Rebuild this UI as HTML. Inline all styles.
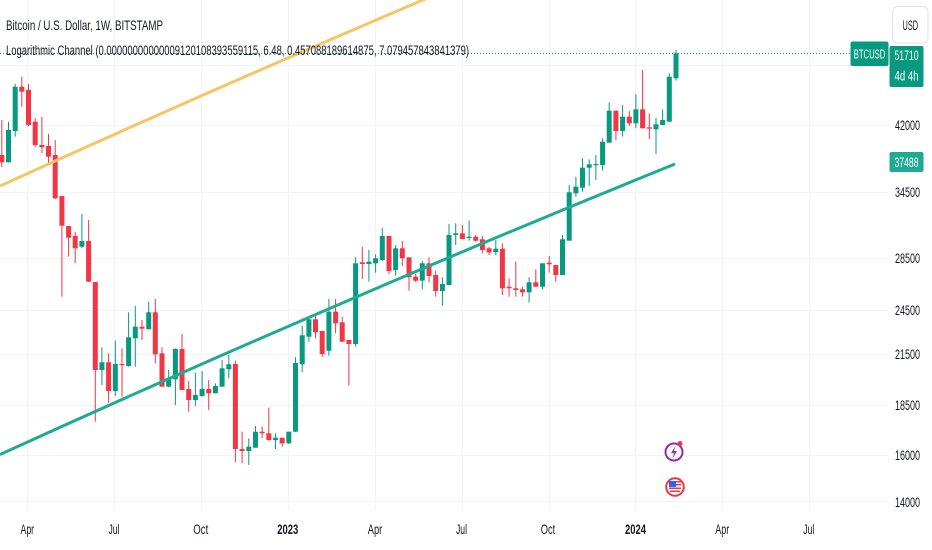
<!DOCTYPE html>
<html><head><meta charset="utf-8"><style>
html,body{margin:0;padding:0;background:#fff;}
svg{display:block;font-family:"Liberation Sans",sans-serif;}
</style></head><body>
<svg width="932" height="550" viewBox="0 0 932 550" xmlns="http://www.w3.org/2000/svg">
<rect width="932" height="550" fill="#fff"/>
<g stroke="#f0f3fa" stroke-width="1">
<line x1="27.5" y1="0" x2="27.5" y2="510"/><line x1="114.5" y1="0" x2="114.5" y2="510"/><line x1="201.5" y1="0" x2="201.5" y2="510"/><line x1="288.5" y1="0" x2="288.5" y2="510"/><line x1="375.5" y1="0" x2="375.5" y2="510"/><line x1="462.5" y1="0" x2="462.5" y2="510"/><line x1="549.5" y1="0" x2="549.5" y2="510"/><line x1="635.5" y1="0" x2="635.5" y2="510"/><line x1="722.5" y1="0" x2="722.5" y2="510"/><line x1="809.5" y1="0" x2="809.5" y2="510"/>
<line x1="0" y1="65.5" x2="888" y2="65.5"/><line x1="0" y1="125.5" x2="888" y2="125.5"/><line x1="0" y1="192.5" x2="888" y2="192.5"/><line x1="0" y1="258.5" x2="888" y2="258.5"/><line x1="0" y1="310.5" x2="888" y2="310.5"/><line x1="0" y1="354.5" x2="888" y2="354.5"/><line x1="0" y1="405.5" x2="888" y2="405.5"/><line x1="0" y1="455.5" x2="888" y2="455.5"/><line x1="0" y1="501.5" x2="888" y2="501.5"/>
</g>
<line x1="0" y1="53.5" x2="851" y2="53.5" stroke="#089981" stroke-width="1" stroke-dasharray="1 2"/>
<g fill="#f23645">
<rect x="1.3" y="120" width="1" height="47"/><rect x="-0.7" y="155" width="5" height="7.3"/>
<rect x="21.3" y="76.7" width="1" height="30"/><rect x="19.3" y="86.7" width="5" height="5"/>
<rect x="28" y="84" width="1" height="42"/><rect x="26" y="90" width="5" height="35"/>
<rect x="34.7" y="118" width="1" height="29"/><rect x="32.7" y="121.7" width="5" height="23.3"/>
<rect x="41.4" y="116.7" width="1" height="36.6"/><rect x="39.4" y="145" width="5" height="2.3"/>
<rect x="48" y="134" width="1" height="29.3"/><rect x="46" y="146" width="5" height="10.7"/>
<rect x="54.7" y="140" width="1" height="59.3"/><rect x="52.7" y="155" width="5" height="43.3"/>
<rect x="61.4" y="196" width="1" height="100.7"/><rect x="59.4" y="196" width="5" height="29.7"/>
<rect x="68.1" y="226" width="1" height="30.7"/><rect x="66.1" y="226" width="5" height="11.7"/>
<rect x="74.7" y="231.7" width="1" height="31.6"/><rect x="72.7" y="236" width="5" height="12.3"/>
<rect x="88.1" y="220" width="1" height="62"/><rect x="86.1" y="241" width="5" height="40.7"/>
<rect x="94.8" y="282" width="1" height="139.7"/><rect x="92.8" y="282" width="5" height="88"/>
<rect x="108.1" y="353.3" width="1" height="49.4"/><rect x="106.1" y="362.3" width="5" height="28.7"/>
<rect x="121.5" y="348.3" width="1" height="48.4"/><rect x="119.5" y="364" width="5" height="1.2"/>
<rect x="141.5" y="320" width="1" height="20"/><rect x="139.5" y="326.7" width="5" height="2"/>
<rect x="154.8" y="299" width="1" height="64.3"/><rect x="152.8" y="312.3" width="5" height="42"/>
<rect x="161.5" y="347.3" width="1" height="39.4"/><rect x="159.5" y="353.3" width="5" height="33.4"/>
<rect x="181.5" y="334" width="1" height="56"/><rect x="179.5" y="349" width="5" height="41"/>
<rect x="188.2" y="381" width="1" height="30.7"/><rect x="186.2" y="389" width="5" height="11"/>
<rect x="208.2" y="380" width="1" height="30"/><rect x="206.2" y="389" width="5" height="4.3"/>
<rect x="234.9" y="360.7" width="1" height="101.6"/><rect x="232.9" y="364" width="5" height="85"/>
<rect x="241.6" y="431.7" width="1" height="31.6"/><rect x="239.6" y="449" width="5" height="2"/>
<rect x="261.6" y="426.7" width="1" height="11.6"/><rect x="259.6" y="431.7" width="5" height="1.6"/>
<rect x="268.3" y="407.7" width="1" height="33"/><rect x="266.3" y="433.3" width="5" height="6.7"/>
<rect x="281.7" y="437.7" width="1" height="9"/><rect x="279.7" y="437.7" width="5" height="5.6"/>
<rect x="315" y="313.3" width="1" height="25"/><rect x="313" y="319.3" width="5" height="13"/>
<rect x="321.7" y="331" width="1" height="25.7"/><rect x="319.7" y="331" width="5" height="23"/>
<rect x="335.1" y="299" width="1" height="34.3"/><rect x="333.1" y="311.7" width="5" height="11.6"/>
<rect x="341.7" y="316.7" width="1" height="25"/><rect x="339.7" y="322.3" width="5" height="19.4"/>
<rect x="348.4" y="340" width="1" height="45.7"/><rect x="346.4" y="340" width="5" height="4"/>
<rect x="361.8" y="246.7" width="1" height="32.3"/><rect x="359.8" y="262.3" width="5" height="1.7"/>
<rect x="388.5" y="236" width="1" height="38"/><rect x="386.5" y="236" width="5" height="35"/>
<rect x="401.8" y="241" width="1" height="25"/><rect x="399.8" y="248.3" width="5" height="10"/>
<rect x="408.5" y="257.3" width="1" height="33.4"/><rect x="406.5" y="257.3" width="5" height="20"/>
<rect x="415.2" y="274" width="1" height="8.3"/><rect x="413.2" y="276.7" width="5" height="4"/>
<rect x="428.5" y="257.3" width="1" height="25"/><rect x="426.5" y="263.3" width="5" height="12.7"/>
<rect x="435.2" y="270.7" width="1" height="26"/><rect x="433.2" y="275" width="5" height="16"/>
<rect x="461.9" y="225" width="1" height="14"/><rect x="459.9" y="233.3" width="5" height="5.7"/>
<rect x="475.2" y="235" width="1" height="6.7"/><rect x="473.2" y="236.7" width="5" height="4"/>
<rect x="481.9" y="236" width="1" height="17.3"/><rect x="479.9" y="239.3" width="5" height="10.7"/>
<rect x="488.6" y="246.7" width="1" height="8.3"/><rect x="486.6" y="248.3" width="5" height="4.2"/>
<rect x="501.9" y="243.3" width="1" height="51.7"/><rect x="499.9" y="248.7" width="5" height="39.6"/>
<rect x="508.6" y="278.3" width="1" height="18.4"/><rect x="506.6" y="286.7" width="5" height="1.6"/>
<rect x="515.3" y="261.7" width="1" height="35"/><rect x="513.3" y="288.3" width="5" height="1.7"/>
<rect x="522" y="286.7" width="1" height="10"/><rect x="520" y="289.3" width="5" height="3"/>
<rect x="535.3" y="269.3" width="1" height="17.4"/><rect x="533.3" y="282.3" width="5" height="4.4"/>
<rect x="548.7" y="256" width="1" height="16.7"/><rect x="546.7" y="262.7" width="5" height="1.6"/>
<rect x="555.3" y="265" width="1" height="16.7"/><rect x="553.3" y="265" width="5" height="10"/>
<rect x="615.4" y="110.7" width="1" height="29.3"/><rect x="613.4" y="110.7" width="5" height="20.3"/>
<rect x="628.8" y="111" width="1" height="15"/><rect x="626.8" y="116.7" width="5" height="6.6"/>
<rect x="642.1" y="70" width="1" height="58.3"/><rect x="640.1" y="109.3" width="5" height="19"/>
<rect x="648.8" y="113.3" width="1" height="25.7"/><rect x="646.8" y="127.3" width="5" height="1.4"/>
</g>
<g fill="#089981">
<rect x="8" y="121.7" width="1" height="40.6"/><rect x="6" y="130" width="5" height="32.3"/>
<rect x="14.7" y="84" width="1" height="52.7"/><rect x="12.7" y="86.7" width="5" height="44.3"/>
<rect x="81.4" y="214" width="1" height="34"/><rect x="79.4" y="241" width="5" height="5.7"/>
<rect x="101.4" y="347.3" width="1" height="37.7"/><rect x="99.4" y="362.3" width="5" height="7.7"/>
<rect x="114.8" y="340.7" width="1" height="55.3"/><rect x="112.8" y="364" width="5" height="27"/>
<rect x="128.1" y="312.3" width="1" height="54.4"/><rect x="126.1" y="337.3" width="5" height="28.7"/>
<rect x="134.8" y="306" width="1" height="60.7"/><rect x="132.8" y="326.7" width="5" height="11.6"/>
<rect x="148.2" y="301.7" width="1" height="27.6"/><rect x="146.2" y="312.3" width="5" height="17"/>
<rect x="168.2" y="370" width="1" height="17.3"/><rect x="166.2" y="378.3" width="5" height="8.4"/>
<rect x="174.9" y="348.3" width="1" height="56.7"/><rect x="172.9" y="349" width="5" height="30.3"/>
<rect x="194.9" y="372.7" width="1" height="33.3"/><rect x="192.9" y="395" width="5" height="5"/>
<rect x="201.6" y="371" width="1" height="25.7"/><rect x="199.6" y="389" width="5" height="7"/>
<rect x="214.9" y="383.3" width="1" height="10"/><rect x="212.9" y="386" width="5" height="7.3"/>
<rect x="221.6" y="360" width="1" height="26.7"/><rect x="219.6" y="368.3" width="5" height="18.4"/>
<rect x="228.3" y="355" width="1" height="23.3"/><rect x="226.3" y="364.3" width="5" height="5"/>
<rect x="248.3" y="438.3" width="1" height="26.7"/><rect x="246.3" y="446.7" width="5" height="4.3"/>
<rect x="255" y="426" width="1" height="21.7"/><rect x="253" y="431.7" width="5" height="16"/>
<rect x="275" y="433.3" width="1" height="15.7"/><rect x="273" y="437.7" width="5" height="2.3"/>
<rect x="288.3" y="431.7" width="1" height="12.3"/><rect x="286.3" y="431.7" width="5" height="11.6"/>
<rect x="295" y="357.3" width="1" height="74.7"/><rect x="293" y="363" width="5" height="68.7"/>
<rect x="301.7" y="325.7" width="1" height="46.6"/><rect x="299.7" y="335.3" width="5" height="29"/>
<rect x="308.4" y="316.7" width="1" height="25"/><rect x="306.4" y="319.3" width="5" height="17.4"/>
<rect x="328.4" y="299" width="1" height="56.7"/><rect x="326.4" y="311.7" width="5" height="39"/>
<rect x="355.1" y="257.3" width="1" height="89.4"/><rect x="353.1" y="263.3" width="5" height="80.7"/>
<rect x="368.4" y="250" width="1" height="31.7"/><rect x="366.4" y="261.7" width="5" height="2.3"/>
<rect x="375.1" y="254.3" width="1" height="18.4"/><rect x="373.1" y="258.3" width="5" height="5"/>
<rect x="381.8" y="227.7" width="1" height="33.3"/><rect x="379.8" y="236" width="5" height="24"/>
<rect x="395.1" y="245" width="1" height="30.7"/><rect x="393.1" y="248.3" width="5" height="21.7"/>
<rect x="421.8" y="261" width="1" height="28.3"/><rect x="419.8" y="263.3" width="5" height="17.4"/>
<rect x="441.9" y="277.3" width="1" height="28.4"/><rect x="439.9" y="284" width="5" height="7"/>
<rect x="448.5" y="224" width="1" height="61"/><rect x="446.5" y="235" width="5" height="50"/>
<rect x="455.2" y="223.3" width="1" height="21.7"/><rect x="453.2" y="233.3" width="5" height="1.7"/>
<rect x="468.6" y="220.7" width="1" height="20"/><rect x="466.6" y="236.7" width="5" height="1.3"/>
<rect x="495.3" y="240" width="1" height="15"/><rect x="493.3" y="248.7" width="5" height="3.3"/>
<rect x="528.6" y="277.3" width="1" height="25.4"/><rect x="526.6" y="282.3" width="5" height="10"/>
<rect x="542" y="263.3" width="1" height="26"/><rect x="540" y="263.3" width="5" height="23.4"/>
<rect x="562" y="235" width="1" height="40"/><rect x="560" y="239.3" width="5" height="35.7"/>
<rect x="568.7" y="185" width="1" height="55.7"/><rect x="566.7" y="192.3" width="5" height="48.4"/>
<rect x="575.4" y="176.7" width="1" height="20"/><rect x="573.4" y="186.7" width="5" height="6.6"/>
<rect x="582" y="158.3" width="1" height="33.4"/><rect x="580" y="167.7" width="5" height="20"/>
<rect x="588.7" y="159.3" width="1" height="26.7"/><rect x="586.7" y="164.3" width="5" height="3.4"/>
<rect x="595.4" y="155" width="1" height="25"/><rect x="593.4" y="164" width="5" height="1.2"/>
<rect x="602.1" y="138.3" width="1" height="32.4"/><rect x="600.1" y="141.7" width="5" height="23.3"/>
<rect x="608.7" y="102.3" width="1" height="40.4"/><rect x="606.7" y="110.7" width="5" height="32"/>
<rect x="622.1" y="105" width="1" height="31.7"/><rect x="620.1" y="116.7" width="5" height="14.3"/>
<rect x="635.4" y="94.3" width="1" height="34"/><rect x="633.4" y="109.3" width="5" height="14"/>
<rect x="655.5" y="117.7" width="1" height="36.3"/><rect x="653.5" y="124.3" width="5" height="5"/>
<rect x="662.1" y="109.3" width="1" height="15.7"/><rect x="660.1" y="120" width="5" height="5"/>
<rect x="668.8" y="73.3" width="1" height="48.4"/><rect x="666.8" y="76.7" width="5" height="45"/>
<rect x="675.5" y="50" width="1" height="30.7"/><rect x="673.5" y="53.3" width="5" height="25"/>
</g>
<path d="M0,186 Q337.5,32.3 675,-104.5" fill="none" stroke="#f7c466" stroke-width="3"/>
<path d="M0,454.5 Q337.5,300.8 675,164" fill="none" stroke="#1fab93" stroke-width="3"/>
<text x="6" y="30" font-size="14" fill="#131722" textLength="157" lengthAdjust="spacingAndGlyphs">Bitcoin / U.S. Dollar, 1W, BITSTAMP</text>
<text x="6" y="55" font-size="13.5" fill="#131722" textLength="463" lengthAdjust="spacingAndGlyphs">Logarithmic Channel (0.00000000000009120108393559115, 6.48, 0.457088189614875, 7.079457843841379)</text>
<g font-size="14" fill="#131722">
<text x="895" y="130" textLength="25" lengthAdjust="spacingAndGlyphs">42000</text>
<text x="895" y="197" textLength="25" lengthAdjust="spacingAndGlyphs">34500</text>
<text x="895" y="263" textLength="25" lengthAdjust="spacingAndGlyphs">28500</text>
<text x="895" y="315" textLength="25" lengthAdjust="spacingAndGlyphs">24500</text>
<text x="895" y="359" textLength="25" lengthAdjust="spacingAndGlyphs">21500</text>
<text x="895" y="410" textLength="25" lengthAdjust="spacingAndGlyphs">18500</text>
<text x="895" y="460" textLength="25" lengthAdjust="spacingAndGlyphs">16000</text>
<text x="895" y="507" textLength="25" lengthAdjust="spacingAndGlyphs">14000</text>
</g>
<g font-size="14" fill="#131722" text-anchor="middle">
<text x="27.3" y="534" textLength="13.5" lengthAdjust="spacingAndGlyphs">Apr</text>
<text x="114" y="534" textLength="11" lengthAdjust="spacingAndGlyphs">Jul</text>
<text x="200.8" y="534" textLength="15" lengthAdjust="spacingAndGlyphs">Oct</text>
<text x="287.8" y="534" textLength="21" lengthAdjust="spacingAndGlyphs" font-weight="bold">2023</text>
<text x="375" y="534" textLength="14.5" lengthAdjust="spacingAndGlyphs">Apr</text>
<text x="461.5" y="534" textLength="11" lengthAdjust="spacingAndGlyphs">Jul</text>
<text x="548" y="534" textLength="14.5" lengthAdjust="spacingAndGlyphs">Oct</text>
<text x="635.5" y="534" textLength="21" lengthAdjust="spacingAndGlyphs" font-weight="bold">2024</text>
<text x="722.3" y="534" textLength="14" lengthAdjust="spacingAndGlyphs">Apr</text>
<text x="808.8" y="534" textLength="11" lengthAdjust="spacingAndGlyphs">Jul</text>
</g>
<rect x="892.5" y="6.5" width="35.5" height="36.5" rx="5" fill="#fff" stroke="#e0e3eb"/>
<text x="910.3" y="30" font-size="14" fill="#131722" text-anchor="middle" textLength="15.5" lengthAdjust="spacingAndGlyphs">USD</text>
<rect x="850.5" y="41.5" width="38" height="24.5" rx="2" fill="#089981"/>
<text x="869.5" y="58.5" font-size="13" fill="#fff" text-anchor="middle" textLength="31.5" lengthAdjust="spacingAndGlyphs">BTCUSD</text>
<rect x="889.5" y="46" width="34" height="41" rx="2" fill="#089981"/>
<text x="906.5" y="60" font-size="14" fill="#fff" text-anchor="middle" textLength="24" lengthAdjust="spacingAndGlyphs">51710</text>
<text x="906.5" y="80.5" font-size="14" fill="#fff" text-anchor="middle" textLength="24" lengthAdjust="spacingAndGlyphs">4d 4h</text>
<rect x="889.5" y="152" width="34" height="20" rx="2" fill="#1fab93"/>
<text x="906.5" y="167" font-size="14" fill="#fff" text-anchor="middle" textLength="24" lengthAdjust="spacingAndGlyphs">37488</text>
<circle cx="674" cy="452" r="8.5" fill="#fff" stroke="#9c27b0" stroke-width="2"/>
<path d="M675.5,446 L671,453 L674,453 L672.5,458.5 L677,451 L674,451 Z" fill="#9c27b0"/>
<circle cx="680" cy="443.5" r="2.5" fill="#f23645"/>
<circle cx="675" cy="487" r="8.8" fill="#fff" stroke="#f23645" stroke-width="2"/>
<rect x="669" y="481" width="7" height="6" fill="#2962ff"/>
<rect x="676" y="481" width="5" height="1.5" fill="#f23645"/>
<rect x="676" y="484" width="5" height="1.5" fill="#f23645"/>
<rect x="669" y="487.5" width="12" height="1.5" fill="#f23645"/>
<rect x="670" y="490.5" width="10" height="1.5" fill="#f23645"/>
</svg>
</body></html>
